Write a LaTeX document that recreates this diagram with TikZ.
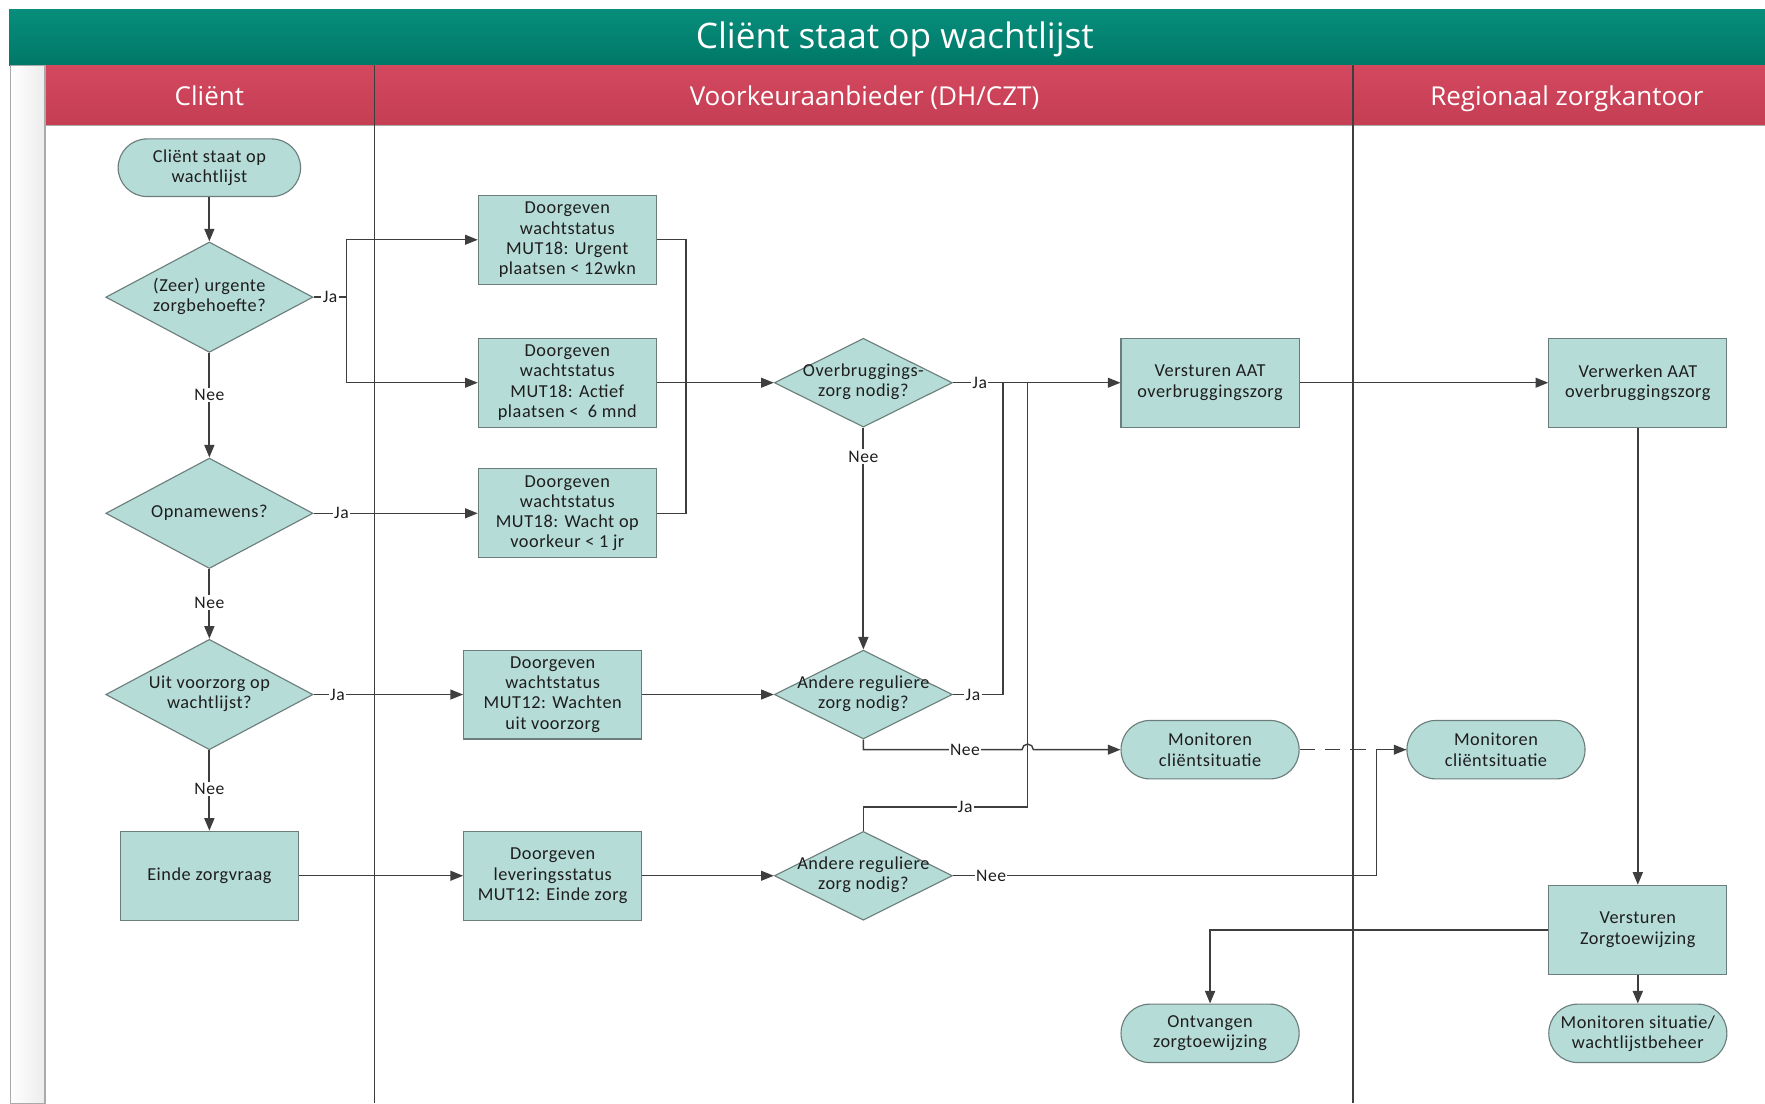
\documentclass[tikz,border=0pt]{standalone}
\usepackage{fontspec}
\setmainfont{Carlito}
\newfontfamily\kopfont{Open Sans}
\newfontfamily\knoopfam[LetterSpace=3]{Carlito}
\usetikzlibrary{shapes.geometric}
\usetikzlibrary{arrows.meta}

\definecolor{titelA}{RGB}{8,142,124}
\definecolor{titelB}{RGB}{0,120,104}
\definecolor{kopA}{RGB}{212,72,94}
\definecolor{kopB}{RGB}{196,62,84}
\definecolor{vakVul}{RGB}{182,220,215}
\definecolor{vakRand}{RGB}{108,126,124}
\definecolor{lijnKleur}{RGB}{62,62,62}
\definecolor{tekstKleur}{RGB}{30,30,30}
\definecolor{strookVul}{RGB}{236,236,236}
\definecolor{strookRand}{RGB}{170,170,170}

\newcommand{\ruit}[1]{\makebox[0pt]{\begin{tabular}{@{}c@{}}#1\end{tabular}}}

\begin{document}
\begin{tikzpicture}[x=0.028142cm, y=-0.028142cm,
    knoopfont/.style={font=\knoopfam\fontsize{13}{14.4}\selectfont},
    vak/.style={rectangle, draw=vakRand, fill=vakVul, text=tekstKleur, line width=0.8pt,
      minimum width=4.45cm, minimum height=2.22cm, inner sep=1pt, align=center, knoopfont},
    eind/.style={vak, rounded corners=0.72cm, minimum height=1.46cm},
    beslis/.style={diamond, draw=vakRand, fill=vakVul, text=tekstKleur, line width=0.8pt,
      aspect=2, inner sep=0pt, minimum width=4.45cm, minimum height=2.22cm, knoopfont},
    beslisgroot/.style={beslis, minimum width=5.18cm, minimum height=2.76cm},
    keuze/.style={fill=white, text=tekstKleur, inner sep=1pt, font=\knoopfam\fontsize{12.5}{14}\selectfont},
    lijntje/.style={draw=lijnKleur, line width=1pt},
    pijl/.style={lijntje, -{Triangle[length=9pt,width=7pt]}},
    pijldik/.style={pijl, line width=1.5pt},
    kop/.style={text=white, anchor=base, font=\kopfont\fontsize{18.5}{22}\selectfont}]
  \useasboundingbox (0,0) rectangle (1568,980);

  % kader en banen
  \shade[top color=titelA, bottom color=titelB] (8,8) rectangle (1568,58);
  \shade[top color=kopA, bottom color=kopB] (40,58) rectangle (1568,111);
  \shadedraw[left color=white, right color=strookVul, draw=strookRand, line width=0.8pt] (9,58) rectangle (40,980);
  \draw[strookRand, line width=0.6pt] (40,111) -- (1568,111);
  \draw[lijnKleur, line width=0.8pt] (333,58) -- (333,980);
  \draw[lijnKleur, line width=0.8pt] (1202,58) -- (1202,980);

  \node[text=white, anchor=base, font=\kopfont\fontsize{25}{30}\selectfont] (titel) at (795,43) {Cliënt staat op wachtlijst};
  \node[kop] (kopClient) at (186,94) {Cliënt};
  \node[kop] (kopVoorkeur) at (768,94) {Voorkeuraanbieder (DH/CZT)};
  \node[kop] (kopRegio) at (1392,94) {Regionaal zorgkantoor};

  % client
  \node[eind, minimum width=4.56cm, minimum height=1.44cm] (start) at (186,149) {Cliënt staat op\\wachtlijst};
  \node[beslisgroot] (dUrgent) at (186,264) {\ruit{(Zeer) urgente\\zorgbehoefte?}};
  \node[beslisgroot] (dOpname) at (186,456) {\ruit{Opnamewens?}};
  \node[beslisgroot] (dVoorzorg) at (186,617) {\ruit{Uit voorzorg op\\wachtlijst?}};
  \node[vak] (bEinde) at (186,778) {Einde zorgvraag};

  % voorkeuraanbieder
  \node[vak] (bUrgent) at (504,213) {Doorgeven\\wachtstatus\\MUT18: Urgent\\plaatsen < 12wkn};
  \node[vak] (bActief) at (504,340) {Doorgeven\\wachtstatus\\MUT18: Actief\\plaatsen < \ 6 mnd};
  \node[vak] (bWacht) at (504,456) {Doorgeven\\wachtstatus\\MUT18: Wacht op\\voorkeur < 1 jr};
  \node[vak] (bWachten) at (491,617) {Doorgeven\\wachtstatus\\MUT12: Wachten\\uit voorzorg};
  \node[vak] (bLevering) at (491,778) {Doorgeven\\leveringsstatus\\MUT12: Einde zorg};
  \node[beslis] (dOverbrug) at (767,340) {\ruit{Overbruggings-\\zorg nodig?}};
  \node[beslis] (dAndere1) at (767,617) {\ruit{Andere reguliere\\zorg nodig?}};
  \node[beslis] (dAndere2) at (767,778) {\ruit{Andere reguliere\\zorg nodig?}};
  \node[vak] (bVersturen) at (1075,340) {Versturen AAT\\overbruggingszorg};
  \node[eind] (tMonitor1) at (1075,666) {Monitoren\\cliëntsituatie};
  \node[eind] (tOntvangen) at (1075,918) {Ontvangen\\zorgtoewijzing};

  % zorgkantoor
  \node[vak] (bVerwerken) at (1455,340) {Verwerken AAT\\overbruggingszorg};
  \node[eind] (tMonitor2) at (1329,666) {Monitoren\\cliëntsituatie};
  \node[vak] (bZorgtoew) at (1455,826) {Versturen\\Zorgtoewijzing};
  \node[eind] (tMonSit) at (1455,918) {Monitoren situatie/\\wachtlijstbeheer};

  \coordinate (splitUrgent) at (308,264);
  \coordinate (knikAndere1) at (891,617);
  \coordinate (knikAndere2) at (913,717);
  \coordinate (knikNee) at (1223,778);

  % verbindingen
  \draw[pijldik] (start) -- (dUrgent);
  \draw[lijntje] (dUrgent.east) -- node[keuze] (jaUrgent) {Ja} (splitUrgent);
  \draw[pijl] (splitUrgent) |- (bUrgent.west);
  \draw[pijl] (splitUrgent) |- (bActief.west);
  \draw[pijldik] (dUrgent) -- node[keuze, pos=0.4] (neeUrgent) {Nee} (dOpname);
  \draw[pijl] (dOpname) -- node[keuze, pos=0.17] (jaOpname) {Ja} (bWacht);
  \draw[pijldik] (dOpname) -- node[keuze, pos=0.48] (neeOpname) {Nee} (dVoorzorg);
  \draw[pijl] (dVoorzorg) -- node[keuze, pos=0.16] (jaVoorzorg) {Ja} (bWachten);
  \draw[pijldik] (dVoorzorg) -- node[keuze, pos=0.48] (neeVoorzorg) {Nee} (bEinde);
  \draw[pijl] (bEinde) -- (bLevering);

  \draw[lijntje] (bUrgent.east) -- ++(26,0) |- (bWacht.east);
  \draw[pijl] (bActief) -- (dOverbrug);
  \draw[pijl] (bWachten) -- (dAndere1);
  \draw[pijl] (bLevering) -- (dAndere2);

  \draw[pijl] (dOverbrug) -- node[keuze, pos=0.16] (jaOverbrug) {Ja} (bVersturen);
  \draw[pijldik] (dOverbrug) -- node[keuze, pos=0.13] (neeOverbrug) {Nee} (dAndere1);
  \draw[lijntje] (dAndere1.east) -- node[keuze, pos=0.4] (jaAndere1) {Ja} (knikAndere1) -- (891,340);
  \draw[pijl] (dAndere1.south) -- (767,666) -- node[keuze, pos=0.64] (neeAndere1) {Nee} (908,666)
    arc[start angle=180, end angle=0, radius=4pt] -- (tMonitor1.west);
  \draw[lijntje] (dAndere2.north) -- (767,717) -- node[keuze, pos=0.62] (jaAndere2) {Ja} (knikAndere2) -- (913,340);
  \draw[lijntje, dash pattern=on 11pt off 7pt] (tMonitor1.east) -- (tMonitor2.west);
  \draw[pijl] (dAndere2.east) -- node[keuze, pos=0.09] (neeAndere2) {Nee} (knikNee) |- (tMonitor2.west);

  \draw[pijl] (bVersturen) -- (bVerwerken);
  \draw[pijldik] (bVerwerken) -- (bZorgtoew);
  \draw[pijldik] (bZorgtoew.west) -| (tOntvangen.north);
  \draw[pijldik] (bZorgtoew) -- (tMonSit);
\end{tikzpicture}
\end{document}
